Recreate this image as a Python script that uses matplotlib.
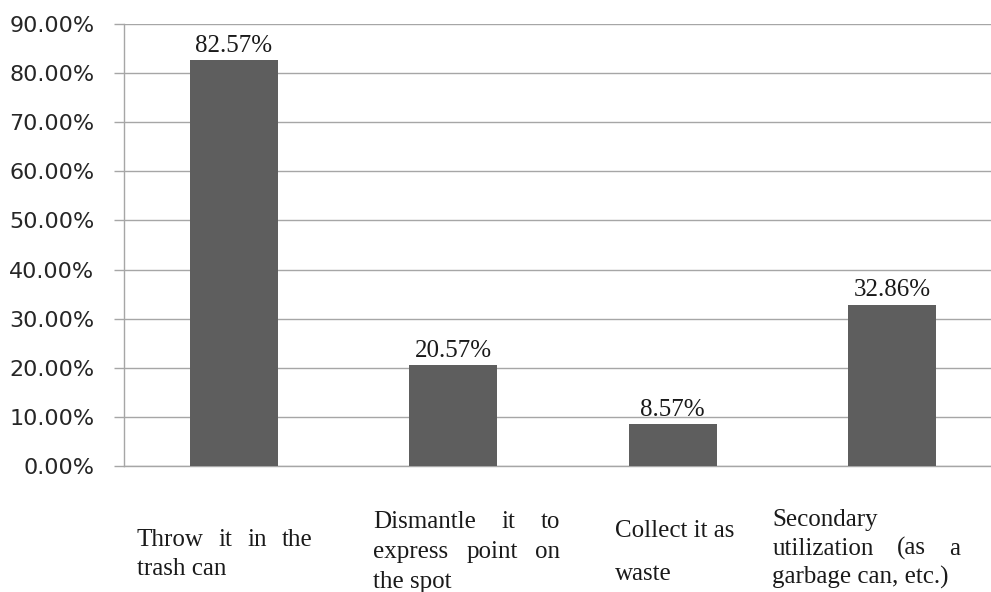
import numpy as np
import matplotlib
matplotlib.use('Agg')
import matplotlib.pyplot as plt
from matplotlib.transforms import IdentityTransform

categories = [
    ['Throw it in the', 'trash can'],
    ['Dismantle it to', 'express point on', 'the spot'],
    ['Collect it as', 'waste'],
    ['Secondary', 'utilization (as a', 'garbage can, etc.)'],
]
values = [82.57, 20.57, 8.57, 32.86]
value_labels = ['82.57%', '20.57%', '8.57%', '32.86%']
yticks = np.arange(0, 91, 10)
ytick_labels = ['%.2f%%' % v for v in yticks]

# wrapped category text, in pixels
label_left = [-97, -80, -58, -120]     # block left edge from category centre
label_width = [176, 187, 127, 188]
label_first = [80, 62, 71, 60]          # first baseline below the x axis
label_step = [29, 30, 43, 29]
justify = [[True, False], [True, True, False], [False, False], [False, True, False]]

serif = 'Liberation Serif'
grey = '#a6a6a6'

fig = plt.figure(figsize=(9.91, 5.92), dpi=100)
ax = fig.add_axes([124 / 991, 126 / 592, 878 / 991, 442 / 592])

x = np.arange(len(values))
ax.bar(x, values, width=0.4, color='#5e5e5e', zorder=3)
ax.set_xlim(-0.5, 3.5)
ax.set_ylim(0, 90)
ax.set_yticks(yticks)
ax.set_yticklabels(ytick_labels)
ax.set_xticks([])
ax.yaxis.grid(True, color=grey, lw=1.0)
ax.set_axisbelow(True)
ax.tick_params(axis='y', length=7.2, width=1.0, color=grey, pad=14,
               labelsize=16, labelcolor='#262626')
for s in ['top', 'right']:
    ax.spines[s].set_visible(False)
for s in ['left', 'bottom']:
    ax.spines[s].set_color(grey)
    ax.spines[s].set_linewidth(1.0)

for i, v in enumerate(values):
    ax.annotate(value_labels[i], (i, v), xytext=(0, 6), textcoords='offset points',
                ha='center', va='baseline', fontsize=18, family=serif, color='#1a1a1a')

fig.canvas.draw()
renderer = fig.canvas.get_renderer()


def text_width(s):
    t = fig.text(0, 0, s, fontsize=18, family=serif)
    w = t.get_window_extent(renderer).width
    t.remove()
    return w


for i, lines in enumerate(categories):
    cx, y0 = ax.transData.transform((i, 0))
    left = cx + label_left[i]
    for k, line in enumerate(lines):
        y = y0 - label_first[i] - k * label_step[i]
        words = line.split()
        if justify[i][k] and len(words) > 1:
            widths = [text_width(w) for w in words]
            gap = (label_width[i] - sum(widths)) / (len(words) - 1)
            xpos = left
            for w, ww in zip(words, widths):
                fig.text(xpos, y, w, transform=IdentityTransform(), fontsize=18,
                         family=serif, va='baseline', color='#1a1a1a')
                xpos += ww + gap
        else:
            fig.text(left, y, line, transform=IdentityTransform(), fontsize=18,
                     family=serif, va='baseline', color='#1a1a1a')

fig.savefig('out.png', dpi=100)
